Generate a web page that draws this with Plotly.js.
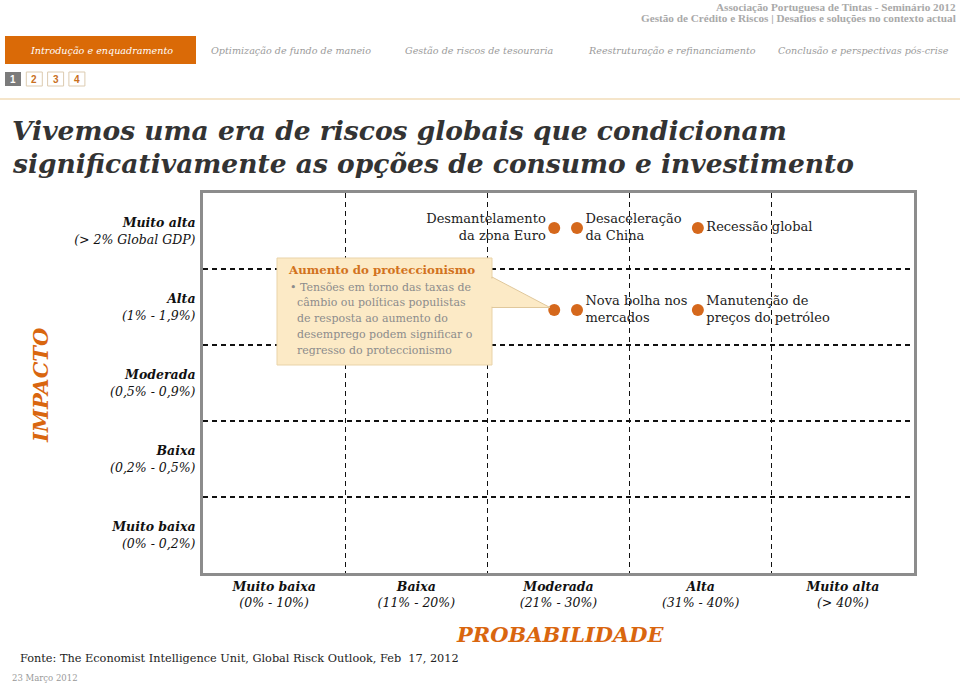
<!DOCTYPE html>
<html>
<head>
<meta charset="utf-8">
<script src="https://cdn.plot.ly/plotly-3.0.1.min.js"></script>
<style>html,body{margin:0;padding:0;background:#fff;}#chart{width:960px;height:684px;}</style>
</head>
<body>
<div id="chart"></div>
<script>
// ---- data ----
const riskLabels = ["Desmantelamento<br>da zona Euro", "Desaceleração<br>da China", "Recessão global", "", "Nova bolha nos<br>mercados", "Manutenção de<br>preços do petróleo"];
const probability = [2.47, 2.63, 3.48, 2.47, 2.63, 3.48];
const impact = [4.54, 4.54, 4.54, 3.46, 3.46, 3.46];
const labelPos = ["middle left", "middle right", "middle right", "middle right", "middle right", "middle right"];

const probTickVals = [0.5, 1.5, 2.5, 3.5, 4.5];
const probNames = ["Muito baixa", "Baixa", "Moderada", "Alta", "Muito alta"];
const probRanges = ["(0% - 10%)", "(11% - 20%)", "(21% - 30%)", "(31% - 40%)", "(> 40%)"];
const impactTickVals = [0.5, 1.5, 2.5, 3.5, 4.5];
const impactNames = ["Muito baixa", "Baixa", "Moderada", "Alta", "Muito alta"];
const impactRanges = ["(0% - 0,2%)", "(0,2% - 0,5%)", "(0,5% - 0,9%)", "(1% - 1,9%)", "(> 2% Global GDP)"];

const calloutTitle = "Aumento do proteccionismo";
const calloutLines = ["• Tensões em torno das taxas de", "câmbio ou políticas populistas", "de resposta ao aumento do", "desemprego podem significar o", "regresso do proteccionismo"];

const tabs = ["Introdução e enquadramento", "Optimização de fundo de maneio", "Gestão de riscos de tesouraria", "Reestruturação e refinanciamento", "Conclusão e perspectivas pós-crise"];
const tabCenters = [101, 291, 479, 672, 863];
const pages = ["1", "2", "3", "4"];

// ---- layout helpers (pixel -> paper) ----
const L = 203, R = 914, T = 193, B = 573;
const px = x => (x - L) / (R - L);
const py = y => (B - y) / (B - T);
const SERIF = "DejaVu Serif, Georgia, serif";
const ORANGE = "#D9660F";

const mkTick = (n, r) => "<b><i>" + n + "</i></b><br><i>" + r + "</i>";

const trace = {
  type: "scatter", mode: "markers+text",
  x: probability, y: impact, text: riskLabels, textposition: labelPos,
  marker: {size: 12, color: "#D5681C"},
  textfont: {family: SERIF, size: 13, color: "#222"},
  hoverinfo: "skip", cliponaxis: false
};

const shapes = [];
const ann = [];
function rect(x0, y0, x1, y1, fill, line, lw) {
  shapes.push({type: "rect", xref: "paper", yref: "paper", x0: px(x0), x1: px(x1), y0: py(y1), y1: py(y0),
    fillcolor: fill, line: {color: line || fill, width: lw === undefined ? 1 : lw}, layer: "above"});
}
function text(x, y, t, size, color, opts) {
  ann.push(Object.assign({xref: "paper", yref: "paper", x: px(x), y: py(y), text: t, showarrow: false,
    font: {family: SERIF, size: size, color: color}, xanchor: "left", yanchor: "middle"}, opts || {}));
}

// header
ann.push({xref: "paper", yref: "paper", x: px(958), y: py(6.5), text: "<b>Associação Portuguesa de Tintas - Seminário 2012</b>", showarrow: false,
  font: {family: "Liberation Serif, Times New Roman, serif", size: 11.2, color: "#a9a9a9"}, xanchor: "right", yanchor: "middle"});
ann.push({xref: "paper", yref: "paper", x: px(958), y: py(18), text: "<b>Gestão de Crédito e Riscos | Desafios e soluções no contexto actual</b>", showarrow: false,
  font: {family: "Liberation Serif, Times New Roman, serif", size: 11.2, color: "#a9a9a9"}, xanchor: "right", yanchor: "middle"});
rect(5, 36, 196, 64, "#DA6A07", "#DA6A07", 0);
tabs.forEach((t, i) => text(tabCenters[i], 50, "<i>" + t + "</i>", 9.6, i === 0 ? "#ffffff" : "#9a9a9a", {xanchor: "center"}));
pages.forEach((p, i) => {
  const x0 = 5 + i * 21.3;
  if (i === 0) rect(x0, 72, x0 + 16, 86, "#7b7b7b", "#7b7b7b", 0);
  else rect(x0, 72, x0 + 16, 86, "#ffffff", "#dccbb0", 1);
  ann.push({xref: "paper", yref: "paper", x: px(x0 + 8), y: py(79.5), text: "<b>" + p + "</b>", showarrow: false,
    font: {family: "Liberation Sans, Arial, sans-serif", size: 10, color: i === 0 ? "#ffffff" : "#C9701E"}, xanchor: "center", yanchor: "middle"});
});
shapes.push({type: "line", xref: "paper", yref: "paper", x0: px(0), x1: px(960), y0: py(99), y1: py(99), line: {color: "#F2DDB9", width: 1.5}, layer: "above"});

// title
text(10, 130, "<b><i>Vivemos uma era de riscos globais que condicionam</i></b>", 26.5, "#333333");
text(10, 163, "<b><i>significativamente as opções de consumo e investimento</i></b>", 26.5, "#333333");

// callout
rect(277, 258, 492, 365, "#FCEAC6", "#E9D3A8", 1);
shapes.push({type: "path", xref: "paper", yref: "paper",
  path: "M " + px(492) + " " + py(277) + " L " + px(550) + " " + py(307.5) + " L " + px(492) + " " + py(307.5) + " Z",
  fillcolor: "#FCEAC6", line: {color: "#E0C89C", width: 1}, layer: "above"});
rect(490.5, 278.5, 493.5, 306.8, "#FCEAC6", "#FCEAC6", 0);
text(286, 270, "<b>" + calloutTitle + "</b>", 11.8, "#D2731E");
calloutLines.forEach((l, i) => text(i === 0 ? 288 : 295, 287 + i * 15.8, l, 11, "#8c8c8c"));

// axis headings
text(40, 385, "<b><i>IMPACTO</i></b>", 21, ORANGE, {xanchor: "center", textangle: -90});
text(560, 634, "<b><i>PROBABILIDADE</i></b>", 21, ORANGE, {xanchor: "center"});

// footer
text(18, 658, "Fonte: The Economist Intelligence Unit, Global Risck Outlook, Feb  17, 2012", 11.3, "#222222");
text(10, 678, "23 Março 2012", 8.5, "#999999");

const layout = {
  width: 960, height: 684,
  margin: {l: L, r: 960 - R, t: T, b: 684 - B, pad: 0},
  paper_bgcolor: "#ffffff", plot_bgcolor: "#ffffff",
  showlegend: false,
  xaxis: {
    range: [0, 5], fixedrange: true, zeroline: false, showgrid: false,
    tickmode: "array", tickvals: probTickVals, ticktext: probNames.map((n, i) => mkTick(n, probRanges[i])),
    ticks: "", ticklabelstandoff: 0,
    tickfont: {family: SERIF, size: 12.5, color: "#111"},
    showline: true, mirror: true, linecolor: "#8c8c8c", linewidth: 3,
    minor: {tickmode: "array", tickvals: [1, 2, 3, 4], showgrid: true, gridcolor: "#111", gridwidth: 1.3, griddash: "5px,4px", ticks: ""}
  },
  yaxis: {
    range: [0, 5], fixedrange: true, zeroline: false, showgrid: false,
    tickmode: "array", tickvals: impactTickVals, ticktext: impactNames.map((n, i) => mkTick(n, impactRanges[i])),
    ticks: "", ticklabelstandoff: 2,
    tickfont: {family: SERIF, size: 12.5, color: "#111"},
    showline: true, mirror: true, linecolor: "#8c8c8c", linewidth: 3,
    minor: {tickmode: "array", tickvals: [1, 2, 3, 4], showgrid: true, gridcolor: "#111", gridwidth: 1.3, griddash: "5px,4px", ticks: ""}
  },
  shapes: shapes,
  annotations: ann
};

Plotly.newPlot("chart", [trace], layout, {displayModeBar: false, staticPlot: true});
</script>
</body>
</html>
